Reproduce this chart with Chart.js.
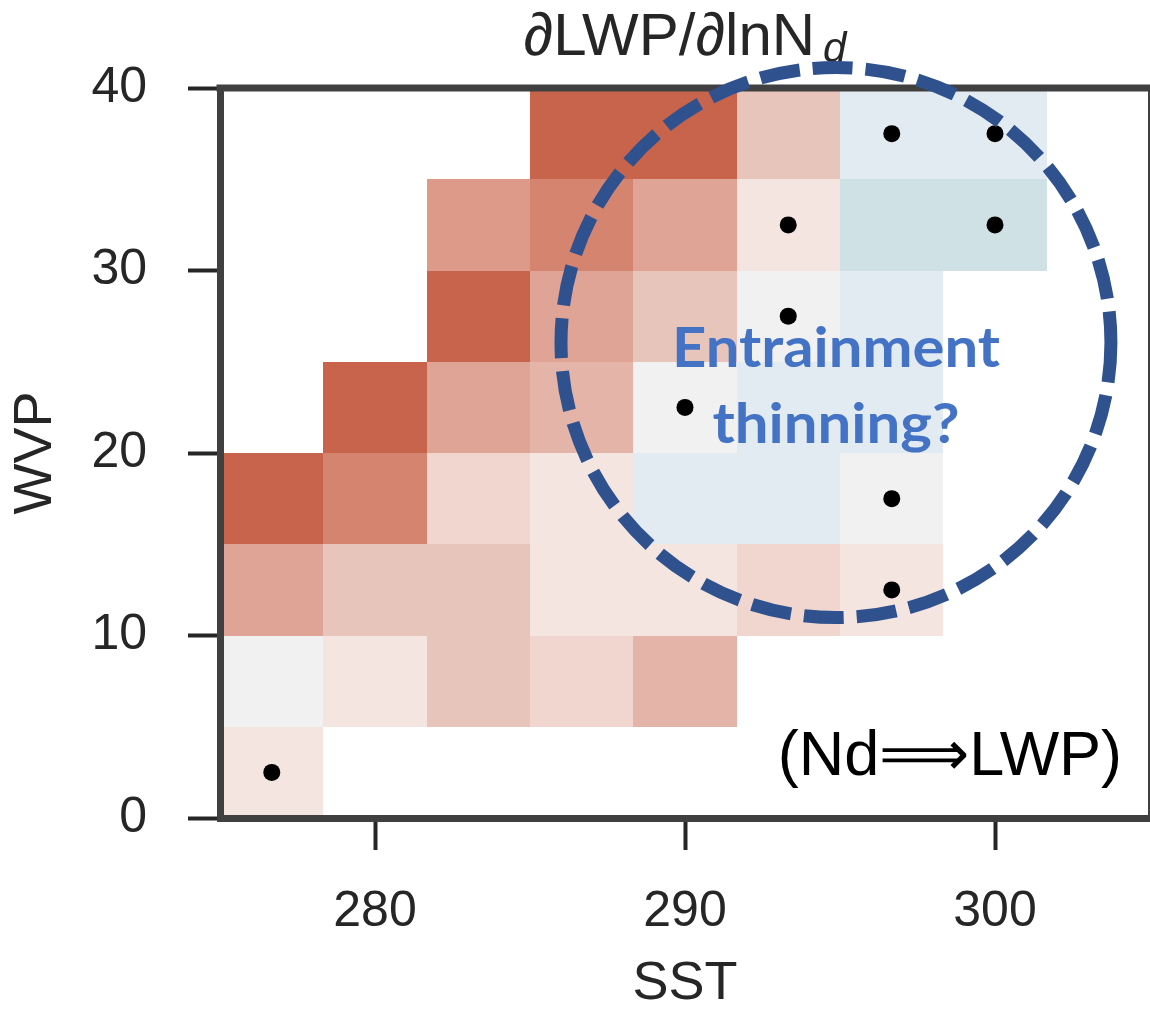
<!DOCTYPE html>
<html><head><meta charset="utf-8">
<script src="https://cdn.jsdelivr.net/npm/chart.js@4/dist/chart.umd.min.js"></script>
<style>html,body{margin:0;padding:0;background:#fff;overflow:hidden}canvas{display:block}</style>
</head><body>
<canvas id="c" width="1150" height="1011"></canvas>
<script>
// ---- data ----
const sstBinEdges = [275, 278.33, 281.67, 285, 288.33, 291.67, 295, 298.33, 301.67, 305];
const wvpBinEdges = [0, 5, 10, 15, 20, 25, 30, 35, 40];
// sensitivity dLWP/dlnNd (normalised), one row per WVP bin, one value per SST bin; null = no data
const wvp0to5   = [0.10, null, null, null, null, null, null, null, null];
const wvp5to10  = [0.00, 0.10, 0.35, 0.20, 0.45, null, null, null, null];
const wvp10to15 = [0.55, 0.35, 0.35, 0.10, 0.10, 0.20, 0.10, null, null];
const wvp15to20 = [1.00, 0.75, 0.20, 0.10, -0.12, -0.12, 0.00, null, null];
const wvp20to25 = [null, 1.00, 0.55, 0.45, 0.00, -0.12, -0.12, null, null];
const wvp25to30 = [null, null, 1.00, 0.55, 0.35, 0.00, -0.12, null, null];
const wvp30to35 = [null, null, 0.62, 0.75, 0.55, 0.10, -0.25, -0.25, null];
const wvp35to40 = [null, null, null, 1.00, 1.00, 0.35, -0.12, -0.12, null];
const sensitivityRows = [wvp0to5, wvp5to10, wvp10to15, wvp15to20, wvp20to25, wvp25to30, wvp30to35, wvp35to40];
// significant cells (dots)
const sigSST = [276.67, 290, 293.33, 293.33, 296.67, 300, 300, 296.67, 296.67];
const sigWVP = [2.5, 22.5, 27.5, 32.5, 37.5, 37.5, 32.5, 17.5, 12.5];
const xTickValues = [280, 290, 300];
const yTickValues = [0, 10, 20, 30, 40];

// ---- colour map (style) ----
const cmapValues = [-0.25, -0.12, 0, 0.10, 0.20, 0.35, 0.45, 0.55, 0.62, 0.75, 1.0];
const cmapColors = ['#d0e1e6', '#e2ebf1', '#f1f1f1', '#f4e5e1', '#f1d6cf', '#e8c5bb', '#e3b4a7', '#e0a496', '#dd9a89', '#d4846f', '#c7644b'];
function hex2rgb(h){return [parseInt(h.substr(1,2),16),parseInt(h.substr(3,2),16),parseInt(h.substr(5,2),16)];}
function cmap(v){
  if (v <= cmapValues[0]) return cmapColors[0];
  if (v >= cmapValues[cmapValues.length-1]) return cmapColors[cmapColors.length-1];
  for (let i=0;i<cmapValues.length-1;i++){
    if (v>=cmapValues[i] && v<=cmapValues[i+1]){
      const t=(v-cmapValues[i])/(cmapValues[i+1]-cmapValues[i]);
      const a=hex2rgb(cmapColors[i]), b=hex2rgb(cmapColors[i+1]);
      return 'rgb('+a.map((c,k)=>Math.round(c+(b[k]-c)*t)).join(',')+')';
    }
  }
}

// annotation (data coords)
const circle = {sst: 294.87, wvp: 26.05, rSST: 8.87, rWVP: 15.07};

const heatmapPlugin = {
  id: 'heatmap',
  beforeDatasetsDraw(chart){
    const {ctx, scales:{x, y}} = chart;
    ctx.save();
    sensitivityRows.forEach((row, r) => {
      row.forEach((v, c) => {
        if (v === null) return;
        const x0 = x.getPixelForValue(sstBinEdges[c]), x1 = x.getPixelForValue(sstBinEdges[c+1]);
        const y0 = y.getPixelForValue(wvpBinEdges[r+1]), y1 = y.getPixelForValue(wvpBinEdges[r]);
        ctx.fillStyle = cmap(v);
        ctx.fillRect(Math.round(x0), Math.round(y0), Math.round(x1)-Math.round(x0), Math.round(y1)-Math.round(y0));
      });
    });
    ctx.restore();
  },
  afterDraw(chart){
    const {ctx, chartArea:ca, scales:{x, y}} = chart;
    ctx.save();
    // top and right spines
    ctx.strokeStyle = '#404040';
    ctx.lineWidth = 7;
    ctx.beginPath(); ctx.moveTo(ca.left-3.5, ca.top); ctx.lineTo(ca.right, ca.top); ctx.stroke();
    ctx.lineWidth = 2;
    ctx.beginPath(); ctx.moveTo(ca.right-1, ca.top); ctx.lineTo(ca.right-1, ca.bottom); ctx.stroke();

    // title
    ctx.fillStyle = '#262626';
    ctx.textBaseline = 'alphabetic';
    ctx.textAlign = 'left';
    const main = '\u2202LWP/\u2202lnN', sub = 'd';
    ctx.font = '60px "Liberation Sans", Arial, sans-serif';
    const wMain = ctx.measureText(main).width;
    ctx.font = 'italic 42px "Liberation Sans", Arial, sans-serif';
    const wSub = ctx.measureText(sub).width;
    const cx = (ca.left + ca.right)/2;
    const sx = cx - (wMain + 8 + wSub)/2;
    ctx.font = '60px "Liberation Sans", Arial, sans-serif';
    ctx.fillText(main, sx, 55);
    ctx.font = 'italic 42px "Liberation Sans", Arial, sans-serif';
    ctx.fillText(sub, sx + wMain + 8, 62);

    // corner label
    ctx.fillStyle = '#000';
    ctx.font = '63px "Liberation Sans", Arial, sans-serif';
    ctx.textAlign = 'right';
    ctx.fillText('(Nd\u27F9LWP)', x.getPixelForValue(304.1), y.getPixelForValue(2.36));

    // dashed circle
    const px = x.getPixelForValue(circle.sst), py = y.getPixelForValue(circle.wvp);
    const rx = Math.abs(x.getPixelForValue(circle.sst + circle.rSST) - px);
    const ry = Math.abs(y.getPixelForValue(circle.wvp + circle.rWVP) - py);
    ctx.strokeStyle = '#2f528f';
    ctx.lineWidth = 13;
    ctx.setLineDash([40, 13]);
    ctx.lineCap = 'butt';
    ctx.beginPath(); ctx.ellipse(px, py, rx, ry, 0, 0, Math.PI*2); ctx.stroke();
    ctx.setLineDash([]);

    // annotation text
    ctx.fillStyle = '#4472c4';
    ctx.textAlign = 'center';
    function fitted(text, cxp, base, target){
      ctx.font = 'bold 56px Lato, "Open Sans", sans-serif';
      const w = ctx.measureText(text).width;
      ctx.save();
      ctx.translate(cxp, base);
      ctx.scale(target / w, 1);
      ctx.fillText(text, 0, 0);
      ctx.restore();
    }
    fitted('Entrainment', px, y.getPixelForValue(24.71), 328);
    fitted('thinning?', px, y.getPixelForValue(20.55), 247);
    ctx.restore();
  }
};

new Chart(document.getElementById('c'), {
  type: 'scatter',
  data: {
    datasets: [{
      label: 'significant',
      data: sigSST.map((s, i) => ({x: s, y: sigWVP[i]})),
      backgroundColor: '#000000',
      borderWidth: 0,
      pointRadius: 8.5,
      pointHoverRadius: 8.5
    }]
  },
  options: {
    responsive: false,
    animation: false,
    devicePixelRatio: 1,
    layout: {autoPadding: false, padding: {top: 88, left: 0, right: 0, bottom: 0}},
    plugins: {legend: {display: false}, tooltip: {enabled: false}, title: {display: false}},
    scales: {
      x: {
        type: 'linear', min: 275, max: 305,
        afterBuildTicks: s => { s.ticks = xTickValues.map(v => ({value: v})); },
        afterFit: s => { s.height = 193; },
        grid: {drawOnChartArea: false, drawTicks: true, tickLength: 32, tickWidth: 4, tickColor: '#262626'},
        border: {display: true, width: 7, color: '#404040', z: 1},
        ticks: {color: '#262626', font: {family: '"Liberation Sans", Arial, sans-serif', size: 50}, padding: 32, maxRotation: 0},
        title: {display: true, text: 'SST', color: '#262626', font: {family: '"Liberation Sans", Arial, sans-serif', size: 54, lineHeight: 1}, padding: {top: 0, bottom: 0}}
      },
      y: {
        type: 'linear', min: 0, max: 40,
        afterBuildTicks: s => { s.ticks = yTickValues.map(v => ({value: v})); },
        afterFit: s => { s.width = 220; },
        grid: {drawOnChartArea: false, drawTicks: true, tickLength: 32, tickWidth: 4, tickColor: '#262626'},
        border: {display: true, width: 7, color: '#404040', z: 1},
        ticks: {color: '#262626', font: {family: '"Liberation Sans", Arial, sans-serif', size: 50}, padding: 41},
        title: {display: true, text: 'WVP', color: '#262626', font: {family: '"Liberation Sans", Arial, sans-serif', size: 54, lineHeight: 1}, padding: {top: 9, bottom: 0}}
      }
    }
  },
  plugins: [heatmapPlugin]
});
</script>
</body></html>
